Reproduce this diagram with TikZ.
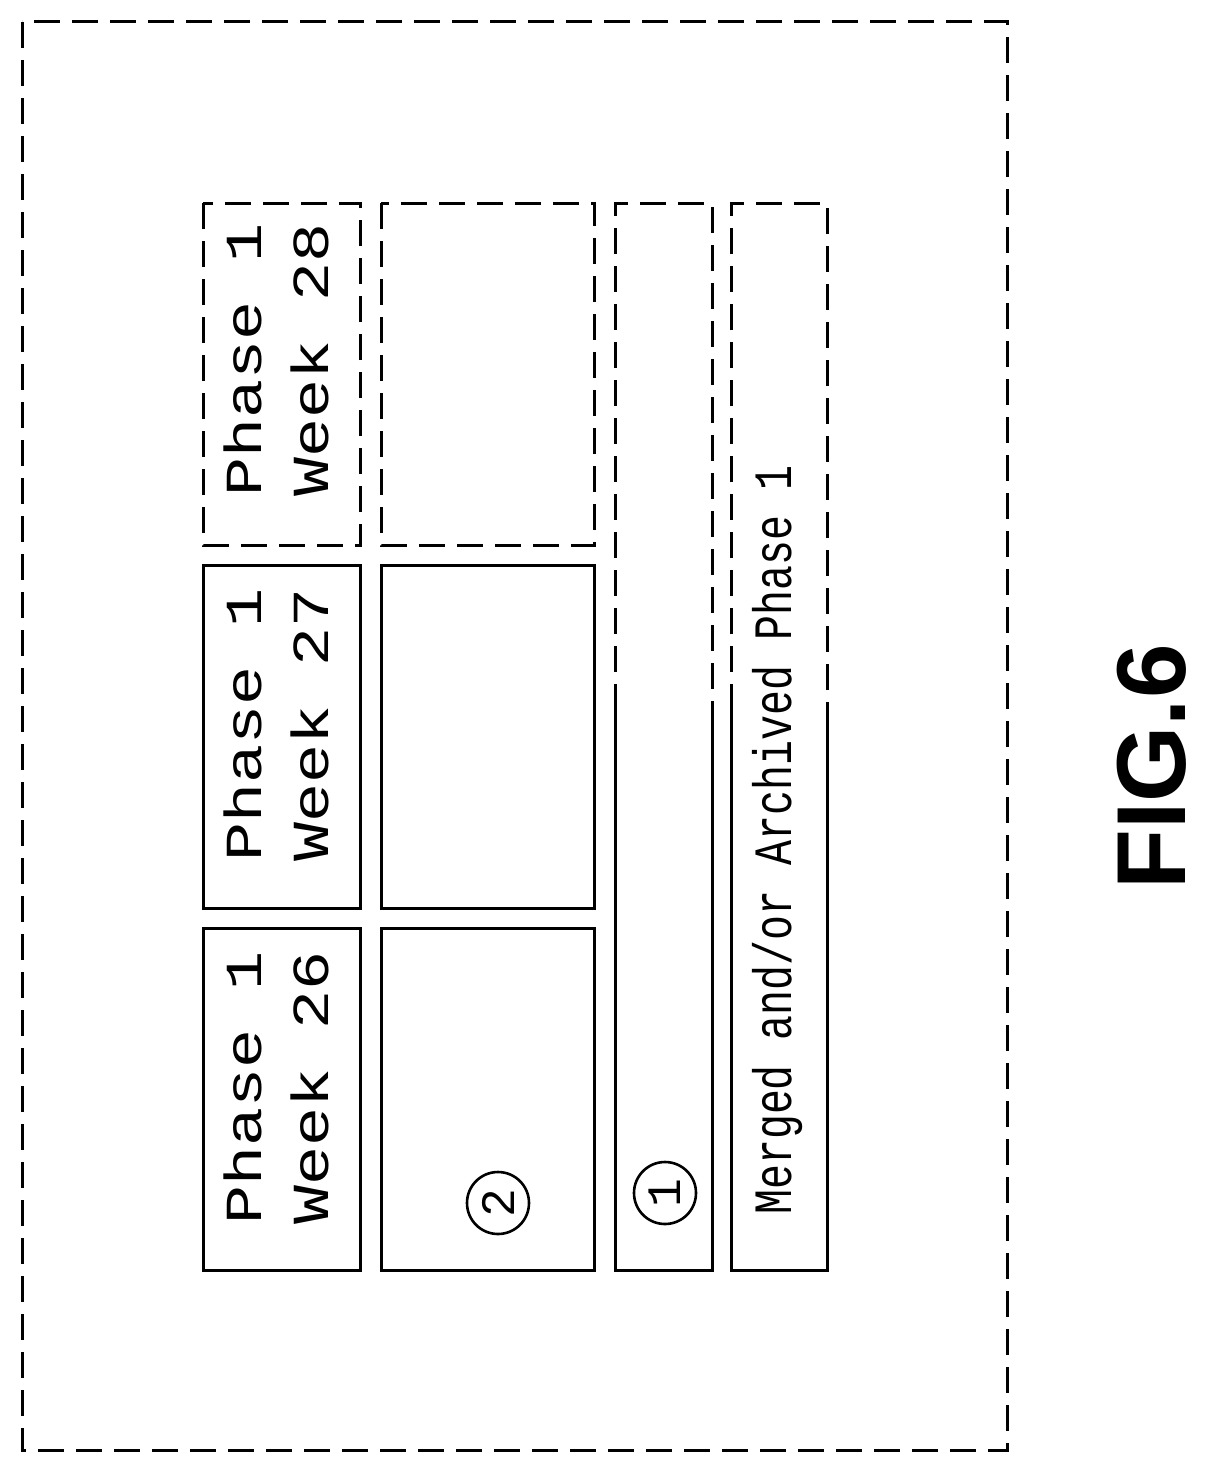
\documentclass[tikz,border=0pt]{standalone}
\usepackage{fontspec}
\setmainfont{Liberation Sans}
\newfontfamily\monof{Liberation Mono}
\begin{document}
\begin{tikzpicture}[x=1pt,y=-1pt,
  lw/.style={line width=3pt},
  dsh/.style={lw,dash pattern=on 26pt off 12pt},
  lbl/.style={rotate=90,anchor=west,inner sep=0pt,font=\monof\fontsize{52}{52}\selectfont},
  num/.style={circle,draw,line width=2.6pt,minimum size=62pt,inner sep=0pt,rotate=90,font=\monof\fontsize{48}{48}\selectfont}]
\useasboundingbox (0,0) rectangle (1214,1472);
\draw[dsh] (22,22) rectangle (1007,1450);
% column 1
\draw[dsh] (203,203) rectangle (360,545);
\draw[lw] (203,565) rectangle (360,908);
\draw[lw] (203,928) rectangle (360,1270);
\node[lbl] (p28) at (243,497) {\scalebox{1.25}[1]{Phase 1}};
\node[lbl] (w28) at (310,497) {\scalebox{1.25}[1]{Week 28}};
\node[lbl] (p27) at (243,862) {\scalebox{1.25}[1]{Phase 1}};
\node[lbl] (w27) at (310,862) {\scalebox{1.25}[1]{Week 27}};
\node[lbl] (p26) at (243,1225) {\scalebox{1.25}[1]{Phase 1}};
\node[lbl] (w26) at (310,1225) {\scalebox{1.25}[1]{Week 26}};
% column 2
\draw[dsh] (381,203) rectangle (594,545);
\draw[lw] (381,565) rectangle (594,908);
\draw[lw] (381,928) rectangle (594,1270);
\node[num] (c2) at (498,1203) {2};
% column 3
\draw[dsh] (615,710) -- (615,203) -- (712,203) -- (712,710);
\draw[lw] (615,710) -- (615,1270) -- (712,1270) -- (712,710);
\node[num] (c1) at (665,1193) {1};
% column 4
\draw[dsh] (731,710) -- (731,203) -- (827,203) -- (827,710);
\draw[lw] (731,710) -- (731,1270) -- (827,1270) -- (827,710);
\node[lbl,font=\monof\fontsize{40}{40}\selectfont] (mg) at (778,1215) {\scalebox{1.04}[1.35]{Merged and/or Archived Phase 1}};
\node[rotate=90,inner sep=0pt,font=\bfseries\fontsize{98}{98}\selectfont] (fig) at (1152,767) {FIG.6};
\end{tikzpicture}
\end{document}
